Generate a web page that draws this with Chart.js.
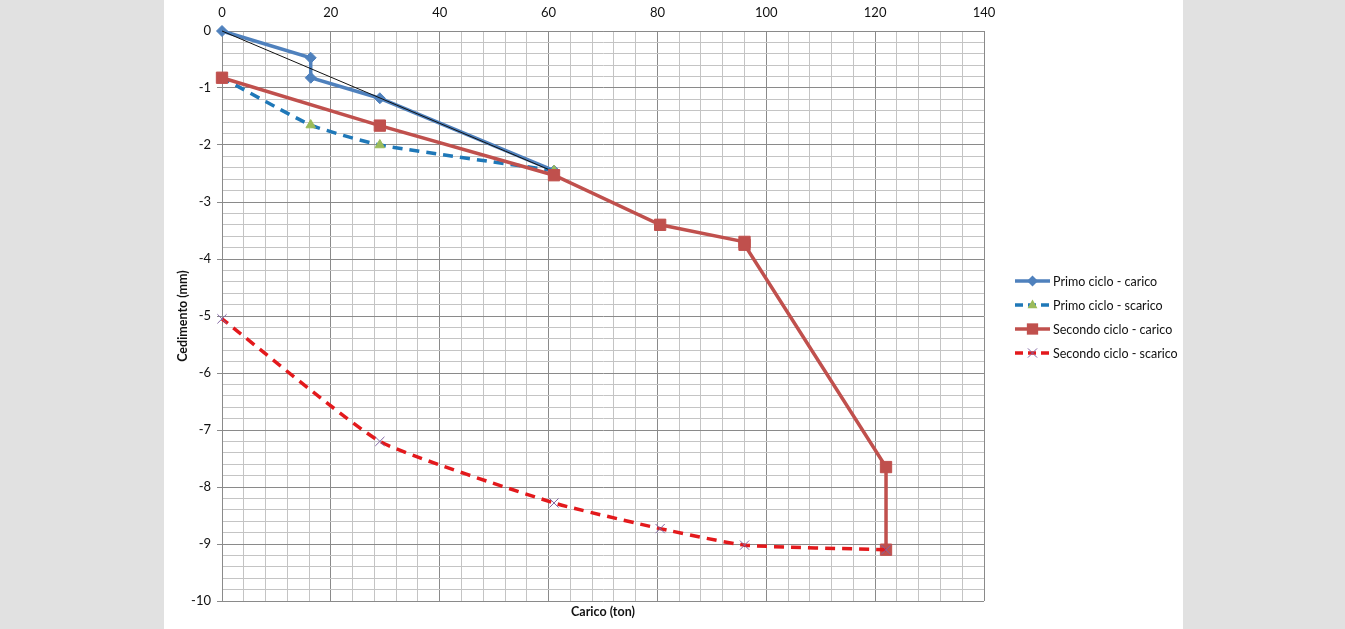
<!DOCTYPE html>
<html>
<head>
<meta charset="utf-8">
<title>Prova di carico</title>
<script src="https://cdn.jsdelivr.net/npm/chart.js@4.4.1/dist/chart.umd.min.js"></script>
<style>
  html, body { margin: 0; padding: 0; background: #e1e1e1; }
  #wrap { position: absolute; left: 164px; top: 0; width: 1019px; height: 629px; background: #fff; }
  canvas { display: block; }
</style>
</head>
<body>
<div id="wrap"><canvas id="loadChart" width="1019" height="629"></canvas></div>
<script>
// ── Data ─────────────────────────────────────────────────────
const SERIES_LABELS = ['Primo ciclo - carico', 'Primo ciclo - scarico', 'Secondo ciclo - carico', 'Secondo ciclo - scarico'];

const P1_CARICO_X = [0, 16.3, 16.3, 29, 61];
const P1_CARICO_Y = [0, -0.47, -0.82, -1.18, -2.45];

const P1_SCARICO_X = [61, 29, 16.3, 0];
const P1_SCARICO_Y = [-2.45, -2.0, -1.65, -0.82];

const P2_CARICO_X = [0, 29, 61, 80.5, 96, 96, 122, 122];
const P2_CARICO_Y = [-0.82, -1.66, -2.53, -3.40, -3.70, -3.75, -7.65, -9.10];

const P2_SCARICO_X = [122, 96, 80.5, 61, 29, 0];
const P2_SCARICO_Y = [-9.1, -9.02, -8.73, -8.28, -7.2, -5.05];

// thin reference line (no legend entry)
const TREND_X = [0, 61];
const TREND_Y = [0, -2.47];

const X_MIN = 0, X_MAX = 140, X_STEP = 4, X_LABEL_EVERY = 20;
const Y_MIN = -10, Y_MAX = 0, Y_STEP = 0.2;

const X_TITLE = 'Carico (ton)';
const Y_TITLE = 'Cedimento (mm)';

// ── Styles ───────────────────────────────────────────────────
const FONT = 'Lato, "Open Sans", sans-serif';
const MAJOR_GRID = '#8a8a8a';
const MINOR_GRID = '#c4c4c4';
const TEXT_COLOR = '#111';

function pts(xs, ys) {
  return xs.map(function (x, i) { return { x: x, y: ys[i] }; });
}
function isInt(v) { return Math.abs(v - Math.round(v)) < 1e-6; }

// per-series look
const LOOK = [
  { color: '#4f81bd', dash: [], marker: 'rectRot', fill: '#4f81bd', stroke: '#4f81bd', r: 5.5 },
  { color: '#1f78b8', dash: [10, 7], marker: 'triangle', fill: '#9bbb59', stroke: '#9bbb59', r: 5.5 },
  { color: '#c0504d', dash: [], marker: 'rect', fill: '#c0504d', stroke: '#c0504d', r: 8 },
  { color: '#e3191c', dash: [10, 7], marker: 'crossRot', fill: '#8064a2', stroke: '#8064a2', r: 6.5 }
];

function ds(label, data, look, order, tension) {
  return {
    label: label,
    data: data,
    showLine: true,
    borderColor: look.color,
    borderWidth: 3.5,
    borderDash: look.dash,
    tension: tension,
    pointStyle: look.marker,
    pointRadius: look.r,
    pointHoverRadius: look.r,
    pointBackgroundColor: look.fill,
    pointBorderColor: look.stroke,
    pointBorderWidth: 1,
    order: order,
    clip: 10
  };
}

// ── Custom legend + axis titles ──────────────────────────────
function drawMarker(ctx, style, x, y, r) {
  ctx.beginPath();
  if (style === 'rectRot') {
    ctx.moveTo(x, y - r); ctx.lineTo(x + r, y); ctx.lineTo(x, y + r); ctx.lineTo(x - r, y);
    ctx.closePath(); ctx.fill();
  } else if (style === 'triangle') {
    ctx.moveTo(x, y - r); ctx.lineTo(x + r * 0.9, y + r * 0.6); ctx.lineTo(x - r * 0.9, y + r * 0.6);
    ctx.closePath(); ctx.fill();
  } else if (style === 'rect') {
    var s = r * Math.SQRT1_2;
    ctx.rect(x - s, y - s, 2 * s, 2 * s); ctx.fill();
  } else if (style === 'crossRot') {
    var d = r * Math.SQRT1_2;
    ctx.moveTo(x - d, y - d); ctx.lineTo(x + d, y + d);
    ctx.moveTo(x + d, y - d); ctx.lineTo(x - d, y + d);
    ctx.lineWidth = 1; ctx.stroke();
  }
}

const decorPlugin = {
  id: 'decor',
  afterDraw: function (chart) {
    var ctx = chart.ctx;
    ctx.save();
    // axis titles
    ctx.fillStyle = TEXT_COLOR;
    ctx.font = 'bold 12.5px ' + FONT;
    ctx.textAlign = 'center';
    ctx.textBaseline = 'middle';
    ctx.fillText(X_TITLE, 439, 612);
    ctx.translate(19, 316);
    ctx.rotate(-Math.PI / 2);
    ctx.fillText(Y_TITLE, 0, 0);
    ctx.restore();

    // legend
    ctx.save();
    ctx.font = '12.5px ' + FONT;
    ctx.textAlign = 'left';
    ctx.textBaseline = 'middle';
    for (var i = 0; i < SERIES_LABELS.length; i++) {
      var y = 281 + i * 24, look = LOOK[i];
      ctx.strokeStyle = look.color;
      ctx.lineWidth = 3.5;
      ctx.setLineDash(look.dash.length ? [8, 5] : []);
      ctx.beginPath(); ctx.moveTo(851, y); ctx.lineTo(886, y); ctx.stroke();
      ctx.setLineDash([]);
      ctx.fillStyle = look.fill; ctx.strokeStyle = look.stroke;
      drawMarker(ctx, look.marker, 868.5, y, look.r);
      ctx.fillStyle = TEXT_COLOR;
      ctx.fillText(SERIES_LABELS[i], 889, y + 1);
    }
    ctx.restore();
  }
};

// ── Chart ────────────────────────────────────────────────────
new Chart(document.getElementById('loadChart'), {
  type: 'scatter',
  data: {
    datasets: [
      ds(SERIES_LABELS[0], pts(P1_CARICO_X, P1_CARICO_Y), LOOK[0], 5, 0),
      ds(SERIES_LABELS[1], pts(P1_SCARICO_X, P1_SCARICO_Y), LOOK[1], 4, 0.15),
      {
        label: '', data: pts(TREND_X, TREND_Y), showLine: true,
        borderColor: '#111', borderWidth: 1, pointRadius: 0, pointHoverRadius: 0,
        order: 3, clip: 10
      },
      ds(SERIES_LABELS[2], pts(P2_CARICO_X, P2_CARICO_Y), LOOK[2], 2, 0),
      ds(SERIES_LABELS[3], pts(P2_SCARICO_X, P2_SCARICO_Y), LOOK[3], 1, 0.15)
    ]
  },
  options: {
    responsive: false,
    maintainAspectRatio: false,
    animation: false,
    layout: { padding: { left: 0, top: 0, right: 199, bottom: 28 } },
    plugins: { legend: { display: false }, tooltip: { enabled: false } },
    scales: {
      x: {
        type: 'linear', position: 'top',
        min: X_MIN, max: X_MAX,
        afterFit: function (s) { s.height = 31; },
        border: { color: MAJOR_GRID },
        grid: {
          color: function (c) { return c.tick && c.tick.value % X_LABEL_EVERY === 0 ? MAJOR_GRID : MINOR_GRID; },
          tickLength: 5, tickColor: 'rgba(0,0,0,0)'
        },
        ticks: {
          stepSize: X_STEP, autoSkip: false, maxRotation: 0, padding: 5,
          color: TEXT_COLOR, font: { family: FONT, size: 13 },
          callback: function (v) { return v % X_LABEL_EVERY === 0 ? v : ''; }
        }
      },
      y: {
        type: 'linear',
        min: Y_MIN, max: Y_MAX,
        afterFit: function (s) { s.width = 58; },
        border: { color: MAJOR_GRID },
        grid: {
          color: function (c) { return c.tick && isInt(c.tick.value) ? MAJOR_GRID : MINOR_GRID; },
          tickLength: 5,
          tickColor: function (c) { return c.tick && isInt(c.tick.value) ? MAJOR_GRID : 'rgba(0,0,0,0)'; }
        },
        ticks: {
          stepSize: Y_STEP, autoSkip: false, padding: 6,
          color: TEXT_COLOR, font: { family: FONT, size: 13 },
          callback: function (v) { return isInt(v) ? String(Math.round(v)) : ''; }
        }
      }
    }
  },
  plugins: [decorPlugin]
});
</script>
</body>
</html>
